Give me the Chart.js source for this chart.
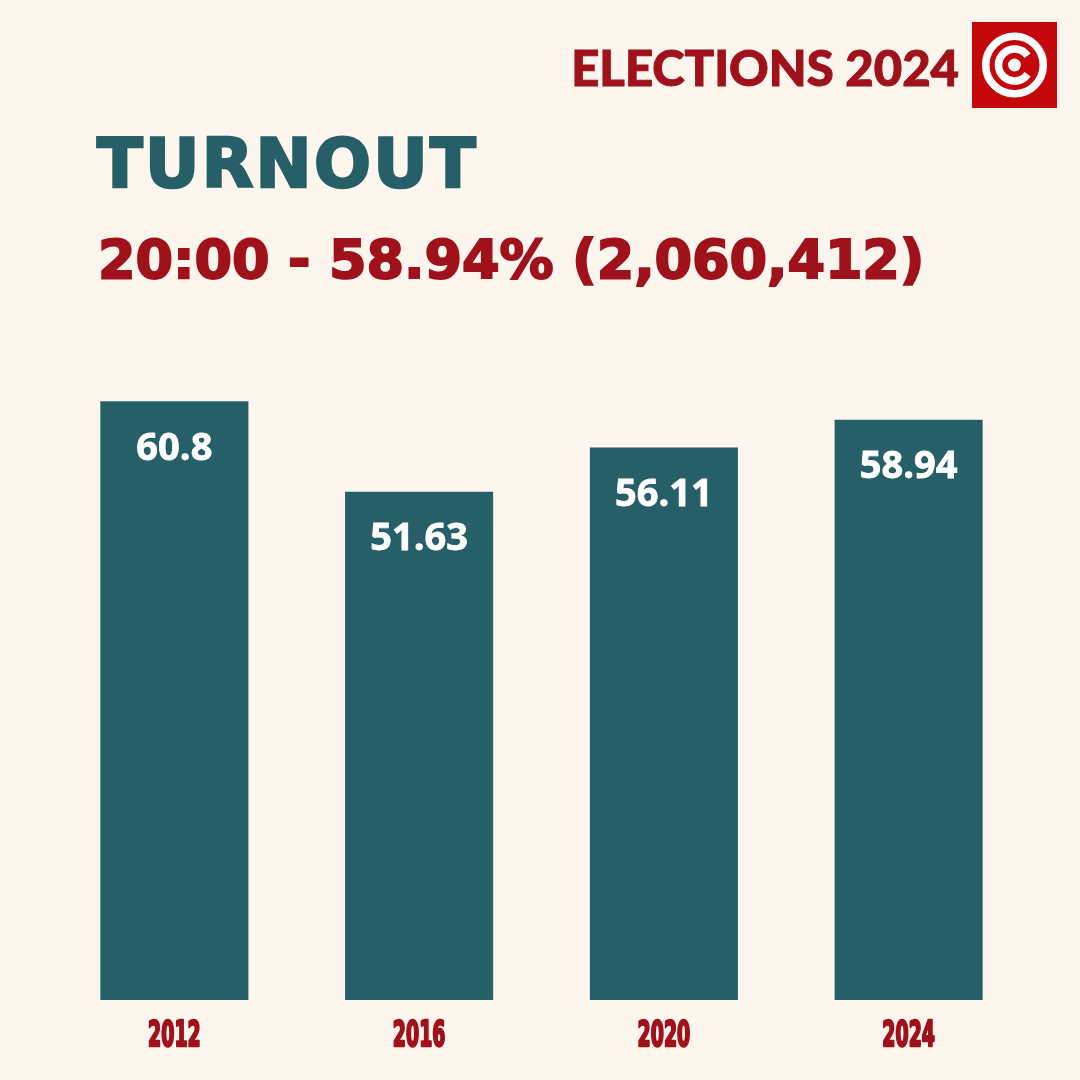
<!DOCTYPE html>
<html>
<head>
<meta charset="utf-8">
<script src="https://cdn.jsdelivr.net/npm/chart.js@4"></script>
<style>
  html, body { margin: 0; padding: 0; background: #fdf6ee; }
  #wrap { position: relative; width: 1080px; height: 1080px; overflow: hidden; }
  #myChart { position: absolute; left: 0; top: 0; }
  .txt { position: absolute; white-space: nowrap; }
  #brand { right: 121px; top: 43px; font-family: Lato, sans-serif; font-weight: 900; font-size: 49px; color: #a0121b; line-height: 1; -webkit-text-stroke: 1px #a0121b; }
  #title { left: 97px; top: 131px; font-family: "DejaVu Sans", sans-serif; font-weight: 700; font-size: 67px; letter-spacing: 2.3px; color: #265f67; line-height: 1; -webkit-text-stroke: 2.5px #265f67; }
  #sub { left: 98px; top: 233px; font-family: "DejaVu Sans", sans-serif; font-weight: 700; font-size: 54px; letter-spacing: -0.1px; color: #a0121b; line-height: 1; -webkit-text-stroke: 2px #a0121b; }
  #logo { position: absolute; left: 972px; top: 22px; }
</style>
</head>
<body>
<div id="wrap">
  <canvas id="myChart" width="1080" height="1080"></canvas>
  <div class="txt" id="brand">ELECTIONS 2024</div>
  <div class="txt" id="title">TURNOUT</div>
  <div class="txt" id="sub">20:00 - 58.94% (2,060,412)</div>
  <svg id="logo" width="85" height="86" viewBox="0 0 85 86">
    <rect x="0" y="0" width="85" height="86" fill="#c4070b"/>
    <circle cx="42.5" cy="43" r="28.8" fill="none" stroke="#fff" stroke-width="7.6"/>
    <path d="M 55.6 33.8 A 16 16 0 1 0 55.6 52.2" fill="none" stroke="#fff" stroke-width="7.6"/>
    <circle cx="42.5" cy="43" r="6.4" fill="#fff"/>
  </svg>
</div>
<script>
const years = ['2012', '2016', '2020', '2024'];
const turnout = [60.8, 51.63, 56.11, 58.94];
const valueLabels = ['60.8', '51.63', '56.11', '58.94'];

const teal = '#265f67';
const red = '#a0121b';

// white numbers inside the top of every bar
const barText = {
    id: 'barText',
    afterDatasetsDraw(chart) {
        const c = chart.ctx;
        const meta = chart.getDatasetMeta(0);
        c.save();
        c.fillStyle = '#ffffff';
        c.strokeStyle = '#ffffff';
        c.lineWidth = 0.8;
        c.font = '700 38px "Open Sans"';
        c.textAlign = 'center';
        c.textBaseline = 'middle';
        meta.data.forEach((bar, i) => {
            c.fillText(valueLabels[i], bar.x, bar.y + 48);
            c.strokeText(valueLabels[i], bar.x, bar.y + 48);
        });
        c.restore();
    }
};

// condensed year labels under the bars
const yearText = {
    id: 'yearText',
    afterDraw(chart) {
        const c = chart.ctx;
        const xs = chart.scales.x;
        c.save();
        c.fillStyle = red;
        c.strokeStyle = red;
        c.lineWidth = 2.4;
        c.lineJoin = 'round';
        c.font = '700 35px "DejaVu Sans Condensed", "DejaVu Sans"';
        c.textAlign = 'center';
        c.textBaseline = 'alphabetic';
        years.forEach((y, i) => {
            c.save();
            c.translate(xs.getPixelForTick(i), 1046);
            c.scale(0.6, 1);
            c.fillText(y, 0, 0);
            c.strokeText(y, 0, 0);
            c.restore();
        });
        c.restore();
    }
};

var ctx = document.getElementById('myChart');
var myChart = new Chart(ctx, {
    type: 'bar',
    data: {
        labels: years,
        datasets: [{
            label: 'turnout',
            data: turnout,
            backgroundColor: teal,
            borderWidth: 0,
            categoryPercentage: 1,
            barPercentage: 0.605
        }]
    },
    options: {
        responsive: false,
        animation: false,
        layout: { padding: { left: 52, right: 49, top: 360, bottom: 80 } },
        plugins: { legend: { display: false }, tooltip: { enabled: false } },
        scales: {
            x: { display: false },
            y: { display: false, min: 0, max: 65 }
        }
    },
    plugins: [barText, yearText]
});
</script>
</body>
</html>
